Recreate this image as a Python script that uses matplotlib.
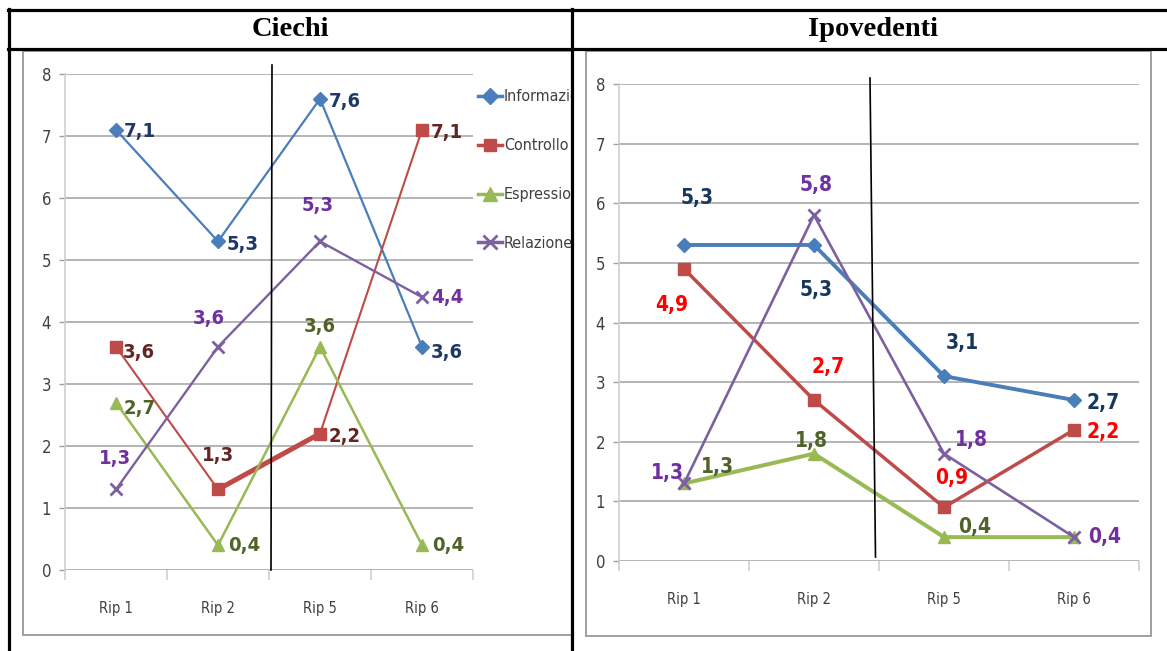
import matplotlib
matplotlib.use("Agg")
import matplotlib.pyplot as plt
from matplotlib.font_manager import FontProperties
from matplotlib.lines import Line2D
from matplotlib.patches import Rectangle
from matplotlib.transforms import Bbox, TransformedBbox

# ---- data -------------------------------------------------------------
categories = ["Rip 1", "Rip 2", "Rip 5", "Rip 6"]
series_names = ["Informazioni", "Controllo", "Espressione", "Relazione"]

ciechi_informazioni = [7.1, 5.3, 7.6, 3.6]
ciechi_controllo = [3.6, 1.3, 2.2, 7.1]
ciechi_espressione = [2.7, 0.4, 3.6, 0.4]
ciechi_relazione = [1.3, 3.6, 5.3, 4.4]

ipo_informazioni = [5.3, 5.3, 3.1, 2.7]
ipo_controllo = [4.9, 2.7, 0.9, 2.2]
ipo_espressione = [1.3, 1.8, 0.4, 0.4]
ipo_relazione = [1.3, 5.8, 1.8, 0.4]

y_ticks = [0, 1, 2, 3, 4, 5, 6, 7, 8]

# ---- styling ----------------------------------------------------------
W, H = 1167, 651
DPI = 100
SERIF = ["Liberation Serif", "DejaVu Serif"]


def cond(size, weight="normal"):
    return FontProperties(family="DejaVu Sans", stretch="condensed",
                          size=size, weight=weight)


line_colors = ["#4A7EBB", "#BE4B48", "#98B954", "#7D60A0"]
markers = ["D", "s", "^", "x"]
marker_sizes = [7.5, 8, 8.5, 8.5]

ciechi_label_colors = ["#1F3864", "#632523", "#4F6228", "#7030A0"]
ipo_label_colors = ["#17375E", "#FF0000", "#4F6228", "#7030A0"]


def fx(x):
    return x / W


def fy(y):
    return 1 - y / H


fig = plt.figure(figsize=(W / DPI, H / DPI), dpi=DPI)
fig.patch.set_facecolor("white")


def fig_line(xs, ys, **kw):
    fig.add_artist(Line2D([fx(x) for x in xs], [fy(y) for y in ys],
                          transform=fig.transFigure, **kw))


# ---- table frame ------------------------------------------------------
tbl_kw = dict(color="black", lw=2.3, zorder=20)
fig_line([8, W], [10, 10], **tbl_kw)
fig_line([8, W], [48.5, 48.5], **tbl_kw)
fig_line([9, 9], [9, H], **tbl_kw)
fig_line([572, 572], [9, H], **tbl_kw)

fig.text(fx(290), fy(30), "Ciechi", family=SERIF, weight="bold",
         fontsize=20.5, ha="center", va="center")
fig.text(fx(873), fy(30), "Ipovedenti", family=SERIF, weight="bold",
         fontsize=20.5, ha="center", va="center")

# chart area frames
frame_kw = dict(color="#A0A0A0", lw=1.4, zorder=1)
fig_line([23, 23], [51, 635], **frame_kw)
fig_line([23, 572], [51, 51], **frame_kw)
fig_line([23, 572], [635, 635], **frame_kw)
fig.add_artist(Rectangle((fx(586), fy(636)), fx(1151 - 586), fy(51) - fy(636),
                         transform=fig.transFigure, fill=False,
                         ec="#A0A0A0", lw=1.4, zorder=1))


def make_axes(x0, x1, y_top, y_bot, label_pad):
    ax = fig.add_axes([fx(x0), fy(y_bot), fx(x1 - x0), fy(y_top) - fy(y_bot)])
    ax.set_xlim(0, len(categories))
    ax.set_ylim(0, 8)
    ax.patch.set_alpha(0)
    for s in ["top", "right", "bottom"]:
        ax.spines[s].set_visible(False)
    ax.spines["left"].set_color("#D0D0D0")
    ax.spines["left"].set_linewidth(1.2)
    ax.set_yticks(y_ticks)
    ax.set_yticklabels([str(t) for t in y_ticks], fontproperties=cond(12),
                       color="#404040")
    ax.tick_params(axis="y", length=4, color="#A0A0A0", width=1, pad=6)
    ax.yaxis.grid(True, color="#A0A0A0", lw=1.1)
    ax.set_axisbelow(True)
    ax.set_xticks(range(len(categories) + 1))
    ax.set_xticklabels([""] * (len(categories) + 1))
    ax.tick_params(axis="x", which="major", length=7, color="#D0D0D0",
                   width=1.2)
    centers = [i + 0.5 for i in range(len(categories))]
    ax.set_xticks(centers, minor=True)
    ax.set_xticklabels(categories, minor=True, fontproperties=cond(10.5),
                       color="#404040")
    ax.tick_params(axis="x", which="minor", length=0, pad=label_pad)
    return ax, centers


def draw(ax, centers, data, widths, label_colors, offsets, fsize):
    for k, vals in enumerate(data):
        ax.plot(centers, vals, color=line_colors[k], lw=widths[k],
                marker=markers[k], ms=marker_sizes[k],
                mew=2.0 if markers[k] == "x" else 1,
                mec=line_colors[k], mfc=line_colors[k],
                solid_joinstyle="miter", clip_on=False, zorder=3 + k)
        for i, v in enumerate(vals):
            off = offsets[k][i]
            if off is None:
                continue
            dx, dy, ha = off
            ax.annotate(f"{v:.1f}".replace(".", ","), (centers[i], v),
                        xytext=(dx * 0.72, dy * 0.72),
                        textcoords="offset points", ha=ha, va="center",
                        fontproperties=cond(fsize, "bold"),
                        color=label_colors[k], zorder=10,
                        annotation_clip=False)


# ---- Ciechi -----------------------------------------------------------
axL, cL = make_axes(65, 473, 74, 570, 22)
ciechi = [ciechi_informazioni, ciechi_controllo, ciechi_espressione,
          ciechi_relazione]
ciechi_offsets = [
    [(8, -2, "left"), (9, -3, "left"), (9, -3, "left"), (9, -6, "left")],
    [(7, -6, "left"), (0, 34, "center"), (9, -3, "left"), (9, -3, "left")],
    [(8, -6, "left"), (10, 0, "left"), (0, 20, "center"), (10, 0, "left")],
    [(-1, 31, "center"), (-9, 28, "center"), (-2, 36, "center"),
     (9, 0, "left")],
]
draw(axL, cL, ciechi, [1.6, 1.5, 1.8, 1.7], ciechi_label_colors,
     ciechi_offsets, 14.5)
# heavier middle stretch of the Controllo line
axL.plot(cL[1:3], ciechi_controllo[1:3], color=line_colors[1], lw=3.6,
         solid_capstyle="butt", zorder=4)

handles = [Line2D([], [], color=line_colors[k], lw=2.5, marker=markers[k],
                  ms=marker_sizes[k] + 1, mew=2.0 if markers[k] == "x" else 1,
                  mec=line_colors[k], mfc=line_colors[k])
           for k in range(4)]
leg = fig.legend(handles, series_names, loc="upper left",
                 bbox_to_anchor=(fx(472), fy(83)), frameon=False,
                 prop=cond(11.5), handlelength=1.5,
                 handletextpad=0.1, labelspacing=2.12, borderaxespad=0)
clip = TransformedBbox(Bbox([[0, 0], [fx(571), 1]]), fig.transFigure)
for t in leg.get_texts():
    t.set_color("#404040")
    t.set_clip_on(True)
    t.set_clip_box(clip)

fig_line([272, 271], [65, 570], color="black", lw=1.2, zorder=15)

# ---- Ipovedenti -------------------------------------------------------
axR, cR = make_axes(619, 1139, 84, 561, 22)
ipo = [ipo_informazioni, ipo_controllo, ipo_espressione, ipo_relazione]
ipo_offsets = [
    [(13, 47, "center"), (2, -45, "center"), (18, 33, "center"),
     (13, -3, "left")],
    [(-12, -36, "center"), (14, 33, "center"), (8, 29, "center"),
     (13, -2, "left")],
    [(34, 16, "center"), (-3, 13, "center"), (14, 10, "left"), None],
    [(-16, 10, "center"), (2, 30, "center"), (11, 14, "left"),
     (14, 0, "left")],
]
draw(axR, cR, ipo, [2.8, 2.5, 2.9, 1.9], ipo_label_colors, ipo_offsets, 15)

fig_line([870, 875.5], [78, 557], color="black", lw=1.2, zorder=15)

fig.savefig("out.png", dpi=DPI, facecolor="white")
